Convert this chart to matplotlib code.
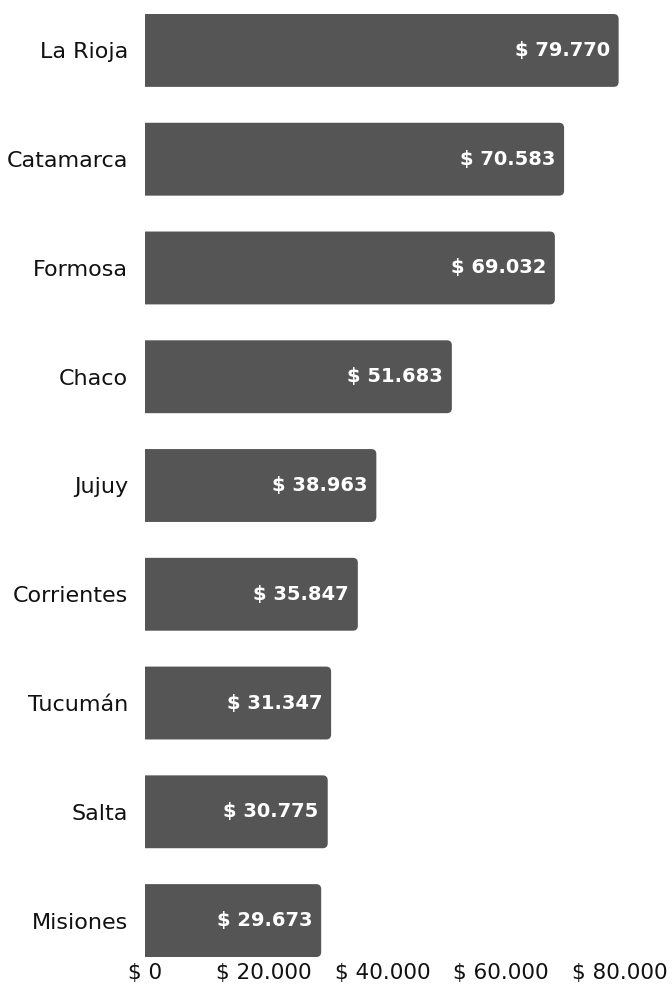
import matplotlib.pyplot as plt
from matplotlib.patches import FancyBboxPatch

provincias = ["La Rioja", "Catamarca", "Formosa", "Chaco", "Jujuy",
              "Corrientes", "Tucumán", "Salta", "Misiones"]
valores = [79770, 70583, 69032, 51683, 38963, 35847, 31347, 30775, 29673]
ticks = [0, 20000, 40000, 60000, 80000]

BAR_COLOR = "#555555"
plt.rcParams['font.family'] = ['DejaVu Sans']


def fmt(v):
    return "$ " + f"{v:,}".replace(",", ".")


fig = plt.figure(figsize=(6.72, 9.9), dpi=100)
ax = fig.add_axes([145 / 672, 33 / 990, 475 / 672, 943 / 990])

h = 0.67
ax.set_xlim(0, 80000)
ax.set_ylim(len(provincias) - 1 + h / 2, -h / 2)

# px -> data units, for rounded corners
px_x = 80000 / 475
px_y = (len(provincias) - 1 + h) / 943
r = 5
for i, v in enumerate(valores):
    box = FancyBboxPatch((-2000, i - h / 2 + r * px_y), v + 2000 - r * px_x, h - 2 * r * px_y,
                         boxstyle=f"round,pad={r * px_x},rounding_size={r * px_x}",
                         mutation_aspect=px_y / px_x,
                         facecolor=BAR_COLOR, edgecolor="none", clip_on=True)
    ax.add_patch(box)
    ax.text(v - 9 * px_x, i, fmt(v), ha="right", va="center",
            color="white", fontsize=14, fontweight="bold")

ax.set_yticks(range(len(provincias)))
ax.set_yticklabels(provincias, fontsize=16, color="#111111")
ax.set_xticks(ticks)
ax.set_xticklabels([fmt(t) for t in ticks], fontsize=15.5, color="#111111")
ax.tick_params(axis="both", length=0)
ax.tick_params(axis="y", pad=12)
ax.tick_params(axis="x", pad=4)
for s in ax.spines.values():
    s.set_visible(False)

fig.savefig("out.png", dpi=100, facecolor="white")
